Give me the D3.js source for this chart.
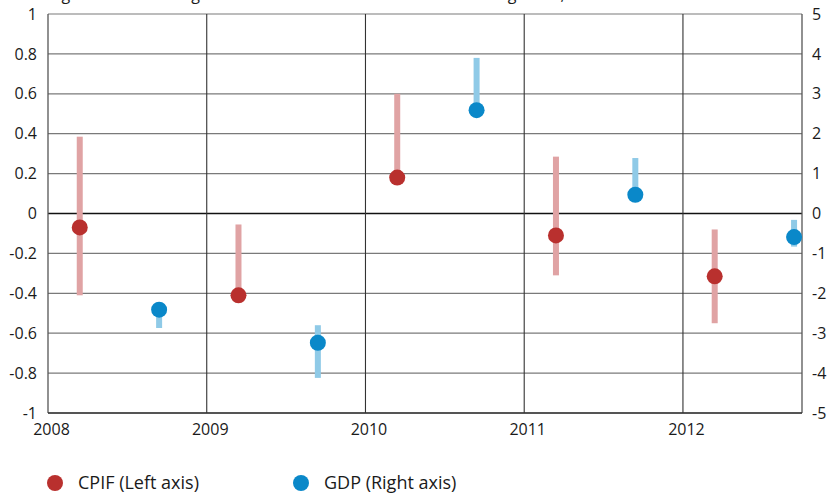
<!DOCTYPE html>
<html>
<head>
<meta charset="utf-8">
<script src="https://cdn.jsdelivr.net/npm/d3@7/dist/d3.min.js"></script>
<style>
  html, body { margin: 0; padding: 0; background: #fff; }
  svg { display: block; font-family: "Open Sans", "Noto Sans", sans-serif; }
</style>
</head>
<body>
<svg id="chart" width="830" height="497"></svg>
<script>
// Forecast periods (position on the time axis) and the two series
const cpifPeriods = [2008.2, 2009.2, 2010.2, 2011.2, 2012.2];
const cpifValues  = [-0.07, -0.41, 0.18, -0.11, -0.315];
const cpifHigh    = [0.385, -0.055, 0.60, 0.285, -0.08];
const cpifLow     = [-0.41, -0.41, 0.18, -0.31, -0.55];

const gdpPeriods = [2008.7, 2009.7, 2010.7, 2011.7, 2012.7];
const gdpValues  = [-2.41, -3.24, 2.59, 0.47, -0.59];
const gdpHigh    = [-2.41, -2.80, 3.90, 1.39, -0.16];
const gdpLow     = [-2.87, -4.12, 2.59, 0.47, -0.83];

const yearTicks  = [2008, 2009, 2010, 2011, 2012];
const leftTicks  = [-1, -0.8, -0.6, -0.4, -0.2, 0, 0.2, 0.4, 0.6, 0.8, 1];
const rightTicks = [-5, -4, -3, -2, -1, 0, 1, 2, 3, 4, 5];

const legendItems = ["CPIF (Left axis)", "GDP (Right axis)"];
const titleText = "Average errors and range of outcomes for CPIF inflation and GDP growth, 2008\u20132012";

const colors = {
  cpifDot: "#b9302e", cpifBar: "#e0a3a4",
  gdpDot: "#0a88c9", gdpBar: "#8fcae7"
};

const W = 830, H = 497;
const margin = { top: 14, right: 28, bottom: 84, left: 48 };
const iw = W - margin.left - margin.right;
const ih = H - margin.top - margin.bottom;
const fontSize = 16;
const legendFontSize = 18;
const textColor = "#1a1a1a";

const svg = d3.select("#chart");

// Title line, sitting mostly above the top edge
svg.append("text")
  .attr("x", 19).attr("y", 0)
  .attr("font-size", fontSize).attr("fill", textColor)
  .text(titleText);

const g = svg.append("g").attr("transform", `translate(${margin.left},${margin.top})`);

const x = d3.scaleLinear().domain([2008, 2012.75]).range([0, iw]);
const yL = d3.scaleLinear().domain([-1, 1]).range([ih, 0]);
const yR = d3.scaleLinear().domain([-5, 5]).range([ih, 0]);

// Horizontal grid
g.append("g").selectAll("line")
  .data(leftTicks)
  .join("line")
  .attr("x1", 0).attr("x2", iw)
  .attr("y1", d => yL(d)).attr("y2", d => yL(d))
  .attr("stroke", d => d === 0 ? "#111" : "#7a7a7a")
  .attr("stroke-width", d => d === 0 ? 1.4 : 1.2);

// Vertical year lines
g.append("g").selectAll("line")
  .data(yearTicks.slice(1))
  .join("line")
  .attr("x1", d => x(d)).attr("x2", d => x(d))
  .attr("y1", 0).attr("y2", ih)
  .attr("stroke", "#333").attr("stroke-width", 1.1);

// Frame: left, right, bottom
g.append("line").attr("x1", 0).attr("x2", 0).attr("y1", 0).attr("y2", ih)
  .attr("stroke", "#555").attr("stroke-width", 1.3);
g.append("line").attr("x1", iw).attr("x2", iw).attr("y1", 0).attr("y2", ih)
  .attr("stroke", "#555").attr("stroke-width", 1.3);
g.append("line").attr("x1", 0).attr("x2", iw).attr("y1", ih).attr("y2", ih)
  .attr("stroke", "#333").attr("stroke-width", 1.3);

// Axis labels
const styleTicks = sel => sel.selectAll("text")
  .attr("font-size", fontSize).attr("fill", textColor)
  .attr("font-family", "'Open Sans', sans-serif");

const leftAxis = d3.axisLeft(yL).tickValues(leftTicks).tickSize(0).tickPadding(11)
  .tickFormat(d => String(+d.toFixed(1)));
const gl = g.append("g").call(leftAxis);
gl.select(".domain").remove();
styleTicks(gl);

const rightAxis = d3.axisRight(yR).tickValues(rightTicks).tickSize(0).tickPadding(10)
  .tickFormat(d => String(d));
const gr = g.append("g").attr("transform", `translate(${iw},0)`).call(rightAxis);
gr.select(".domain").remove();
styleTicks(gr);

const bottomAxis = d3.axisBottom(x).tickValues(yearTicks).tickSize(0).tickPadding(11)
  .tickFormat(d3.format("d"));
const gb = g.append("g").attr("transform", `translate(0,${ih})`).call(bottomAxis);
gb.select(".domain").remove();
styleTicks(gb);
gb.selectAll("text").attr("dx", 3);

// Range bars
const barW = 6;
g.append("g").selectAll("rect")
  .data(cpifPeriods.map((p, i) => ({ p, hi: cpifHigh[i], lo: cpifLow[i] })))
  .join("rect")
  .attr("x", d => x(d.p) - barW / 2).attr("width", barW)
  .attr("y", d => yL(d.hi)).attr("height", d => yL(d.lo) - yL(d.hi))
  .attr("fill", colors.cpifBar);

g.append("g").selectAll("rect")
  .data(gdpPeriods.map((p, i) => ({ p, hi: gdpHigh[i], lo: gdpLow[i] })))
  .join("rect")
  .attr("x", d => x(d.p) - barW / 2).attr("width", barW)
  .attr("y", d => yR(d.hi)).attr("height", d => yR(d.lo) - yR(d.hi))
  .attr("fill", colors.gdpBar);

// Average points
const r = 8;
g.append("g").selectAll("circle")
  .data(cpifPeriods.map((p, i) => ({ p, v: cpifValues[i] })))
  .join("circle")
  .attr("cx", d => x(d.p)).attr("cy", d => yL(d.v)).attr("r", r)
  .attr("fill", colors.cpifDot);

g.append("g").selectAll("circle")
  .data(gdpPeriods.map((p, i) => ({ p, v: gdpValues[i] })))
  .join("circle")
  .attr("cx", d => x(d.p)).attr("cy", d => yR(d.v)).attr("r", r)
  .attr("fill", colors.gdpDot);

// Legend
const legend = svg.append("g").attr("transform", "translate(0,483)");
const legX = [55, 301];
const legC = [colors.cpifDot, colors.gdpDot];
legendItems.forEach((t, i) => {
  legend.append("circle").attr("cx", legX[i]).attr("cy", 0).attr("r", 8).attr("fill", legC[i]);
  legend.append("text").attr("x", legX[i] + 23).attr("y", 0).attr("dy", "0.35em")
    .attr("font-size", legendFontSize).attr("fill", textColor).text(t);
});
</script>
</body>
</html>
